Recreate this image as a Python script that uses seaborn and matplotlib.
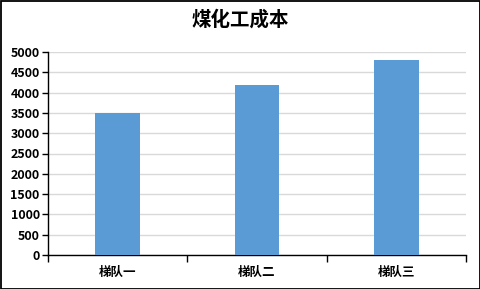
import matplotlib
matplotlib.use("Agg")
import matplotlib.pyplot as plt
import seaborn as sns
import pandas as pd
from matplotlib.patches import Rectangle

categories = ["梯队一", "梯队二", "梯队三"]
values = [3500, 4180, 4800]
y_ticks = [0, 500, 1000, 1500, 2000, 2500, 3000, 3500, 4000, 4500, 5000]
title = "煤化工成本"

sns.set_theme(style="white")
plt.rcParams['font.family'] = ['Noto Sans CJK SC', 'DejaVu Sans']

df = pd.DataFrame({"cat": categories, "val": values})

fig = plt.figure(figsize=(4.81, 2.89), dpi=100)
ax = fig.add_axes([48/481, 1-255/289, (466-48)/481, (255-52)/289])

sns.barplot(data=df, x="cat", y="val", ax=ax, color="#5B9BD5", width=0.32,
            saturation=1, zorder=3, linewidth=0, edgecolor="none")

ax.set_xlim(-0.5, len(categories) - 0.5)
ax.set_ylim(0, 5000)
ax.set_yticks(y_ticks)
ax.set_yticklabels([str(v) for v in y_ticks], fontsize=9, fontweight='bold', color='black')
ax.yaxis.grid(True, color="#D9D9D9", linewidth=1, zorder=0)
ax.set_axisbelow(True)
ax.set_xlabel("")
ax.set_ylabel("")
ax.set_xticks(range(len(categories)))
ax.set_xticklabels(categories, fontsize=9, fontweight='bold', color='black')
ax.tick_params(axis='x', which='major', length=0, pad=8)
ax.set_xticks([i - 0.5 for i in range(len(categories) + 1)], minor=True)
ax.tick_params(axis='x', which='minor', length=5, width=1, color='black', direction='out', bottom=True)
ax.tick_params(axis='y', which='major', length=4, width=1, color='black', direction='out', left=True, pad=2)

for s in ['top', 'right']:
    ax.spines[s].set_visible(False)
for s in ['left', 'bottom']:
    ax.spines[s].set_color('black')
    ax.spines[s].set_linewidth(1)

fig.text(0.5, 1-20/289, title, ha='center', va='center', fontsize=14, fontweight='bold', color='black')

fig.patches.append(Rectangle((0.5/481, 0.5/289), 1-1.5/481, 1-1.5/289, transform=fig.transFigure,
                             fill=False, edgecolor='black', linewidth=1.3))

fig.savefig("out.png", dpi=100)
